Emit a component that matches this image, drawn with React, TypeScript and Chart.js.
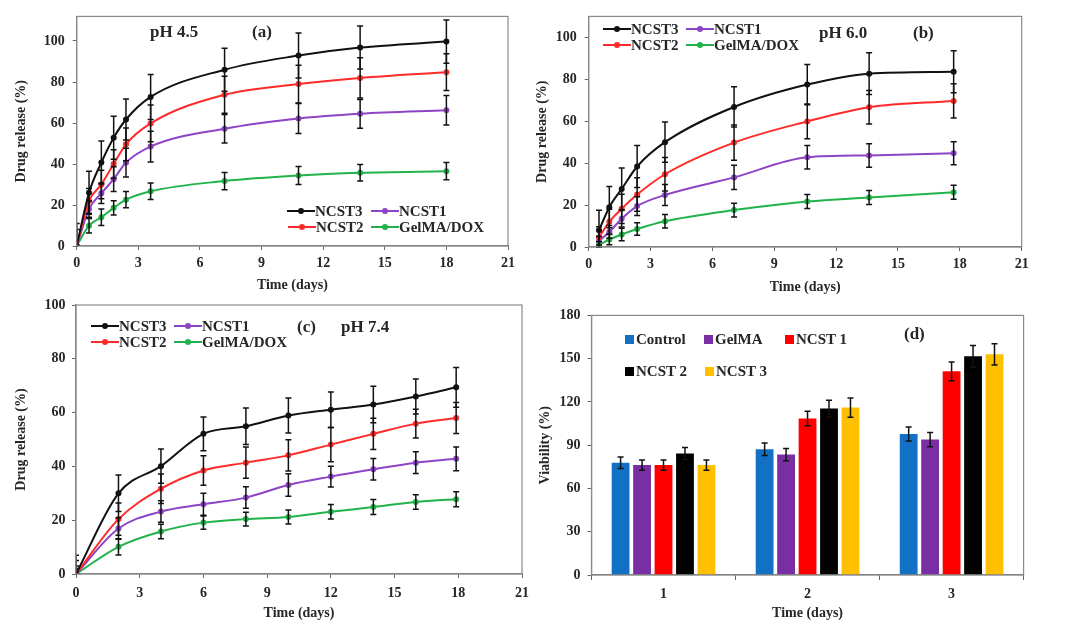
import React, { useEffect, useRef } from "react";
import { Chart, registerables } from "chart.js";

Chart.register(...registerables);

const FONT_FAMILY = '"Liberation Serif", "Times New Roman", Times, serif';
const TEXT_COLOR = "#262626";

// ---------- series names / colours ----------
const LINE_SERIES = ["NCST3", "NCST2", "NCST1", "GelMA/DOX"];
const LINE_COLORS = ["#111111", "#ff2a2a", "#8d44c6", "#22b24c"];

const BAR_SERIES = ["Control", "GelMA", "NCST 1", "NCST 2", "NCST 3"];
const BAR_COLORS = ["#1271c4", "#7a2ea4", "#ff0000", "#000000", "#ffc000"];

// ---------- panel (a) pH 4.5 ----------
const daysA = [0, 0.6, 1.2, 1.8, 2.4, 3.6, 7.2, 10.8, 13.8, 18];
const ncst3A = [0, 26, 40.7, 52.8, 61.7, 72.7, 86, 92.9, 96.8, 99.7];
const ncst3ErrA = [11, 10.5, 10.5, 10.5, 10, 11, 10.5, 11, 10.5, 10.5];
const ncst2A = [0, 22, 30, 40, 49.6, 59.8, 73.8, 79, 82, 84.8];
const ncst2ErrA = [8, 6, 7, 7, 8, 9, 9, 9.2, 9.8, 9];
const ncst1A = [0, 18, 25.7, 32.6, 40.7, 48.5, 57.2, 62.2, 64.5, 66.2];
const ncst1ErrA = [0, 4, 5, 6, 7, 7.5, 7, 7.3, 7, 7.2];
const gelA = [0, 9.9, 14, 18.6, 22.6, 26.7, 31.7, 34.4, 35.7, 36.5];
const gelErrA = [0, 3.5, 4, 3.5, 4, 4, 4.2, 4.4, 4, 4.2];

// ---------- panel (b) pH 6.0 ----------
const daysB = [0.5, 1.0, 1.6, 2.35, 3.7, 7.05, 10.6, 13.6, 17.7];
const ncst3B = [8, 19, 27.7, 38.4, 50, 66.8, 77.5, 82.7, 83.6];
const ncst3ErrB = [9.5, 9.8, 10, 10, 9.6, 9.6, 9.6, 10, 10];
const ncst2B = [4.6, 12, 18.2, 25, 34.7, 49.8, 59.9, 66.7, 69.7];
const ncst2ErrB = [5, 6, 7, 8, 8, 8.4, 8.3, 8, 8.2];
const ncst1B = [3, 7.2, 13.5, 19.5, 24.8, 33.2, 42.8, 43.7, 44.7];
const ncst1ErrB = [2, 3, 4, 4.5, 5, 5.8, 5.6, 5.6, 5.5];
const gelB = [1, 3.6, 6, 8.6, 12.3, 17.6, 21.7, 23.6, 26.1];
const gelErrB = [1.5, 2.5, 3, 3, 3.2, 3.3, 3.3, 3.3, 3.3];

// ---------- panel (c) pH 7.4 ----------
const daysC = [0, 2, 4, 6, 8, 10, 12, 14, 16, 17.9];
const ncst3C = [0, 30, 40.1, 52.1, 54.9, 58.9, 61.1, 63, 66, 69.4];
const ncst3ErrC = [7, 6.8, 6.4, 6.3, 6.8, 6.5, 6.6, 6.8, 6.5, 7.4];
const ncst2C = [0, 20.4, 31.7, 38.5, 41.4, 44.1, 48.1, 52.1, 55.9, 58];
const ncst2ErrC = [5, 6, 5.5, 5.5, 5.8, 5.8, 6.4, 5.8, 5.3, 5.8];
const ncst1C = [0, 16.9, 23.2, 25.9, 28.4, 33.1, 36.2, 38.9, 41.4, 42.8];
const ncst1ErrC = [3, 4, 4, 4.1, 4, 4.2, 3.9, 4, 4, 4.4];
const gelC = [0, 10.1, 15.8, 19.1, 20.4, 21.2, 23.1, 24.9, 26.8, 27.8];
const gelErrC = [2, 3, 2.7, 2.5, 2.6, 2.6, 2.7, 2.8, 2.7, 2.8];

// ---------- panel (d) viability ----------
const dayLabelsD = ["1", "2", "3"];
const controlD = [77.8, 87.2, 97.8];
const controlErrD = [4, 4.4, 4.9];
const gelmaD = [76.2, 83.5, 93.9];
const gelmaErrD = [3.5, 4.2, 4.9];
const ncst1D = [76.2, 108.5, 141.2];
const ncst1ErrD = [3.5, 5, 6.5];
const ncst2D = [84.2, 115.4, 151.6];
const ncst2ErrD = [4.2, 5.8, 7.6];
const ncst3D = [76.2, 116.1, 153];
const ncst3ErrD = [3.5, 6.7, 7.4];

// ---------- plugins ----------
const errorBarPlugin = {
  id: "errorBars",
  afterDatasetsDraw(chart: any) {
    const { ctx, chartArea: a } = chart;
    const yScale = chart.scales.y;
    ctx.save();
    ctx.beginPath();
    ctx.rect(a.left, a.top - 2, a.right - a.left, a.bottom - a.top + 3);
    ctx.clip();
    ctx.strokeStyle = "#111";
    ctx.lineWidth = 1.5;
    const cap = 3;
    chart.data.datasets.forEach((ds: any, i: number) => {
      const errs: number[] | undefined = ds.errors;
      if (!errs) return;
      const meta = chart.getDatasetMeta(i);
      meta.data.forEach((el: any, j: number) => {
        const raw = ds.data[j];
        const v = typeof raw === "number" ? raw : raw.y;
        const e = errs[j];
        if (!e) return;
        const x = el.x;
        const y1 = yScale.getPixelForValue(v + e);
        const y2 = yScale.getPixelForValue(v - e);
        ctx.beginPath();
        ctx.moveTo(x, y1);
        ctx.lineTo(x, y2);
        ctx.moveTo(x - cap, y1);
        ctx.lineTo(x + cap, y1);
        ctx.moveTo(x - cap, y2);
        ctx.lineTo(x + cap, y2);
        ctx.stroke();
      });
    });
    ctx.restore();
  },
};

const frameBoxPlugin = {
  id: "frameBox",
  afterDraw(chart: any) {
    const { ctx, chartArea: a } = chart;
    ctx.save();
    ctx.strokeStyle = "#8a8a8a";
    ctx.lineWidth = 1.2;
    ctx.strokeRect(a.left, a.top, a.right - a.left, a.bottom - a.top);
    ctx.restore();
  },
};

// ---------- geometry ----------
type Geo = {
  cx: number; cy: number; cw: number; ch: number;
  pl: number; pt: number; pr: number; pb: number;
  yTitlePad: number; yTickPad: number; xTickPad: number; xTitlePad: number;
};

const GEO_A: Geo = { cx: 0, cy: 0, cw: 530, ch: 300, pl: 76.7, pt: 14, pr: 508, pb: 246, yTitlePad: 13, yTickPad: 8, xTickPad: 5, xTitlePad: 6.6 };
const GEO_B: Geo = { cx: 530, cy: 0, cw: 541, ch: 300, pl: 588.7, pt: 14, pr: 1021.7, pb: 247, yTitlePad: 3.6, yTickPad: 8, xTickPad: 5, xTitlePad: 4.3 };
const GEO_C: Geo = { cx: 0, cy: 290, cw: 540, ch: 343, pl: 76, pt: 305, pr: 522, pb: 574, yTitlePad: 13, yTickPad: 6.5, xTickPad: 6.5, xTitlePad: 11.3 };
const GEO_D: Geo = { cx: 530, cy: 300, cw: 541, ch: 333, pl: 591.5, pt: 315, pr: 1023.6, pb: 575, yTitlePad: 6.6, yTickPad: 7, xTickPad: 5.5, xTitlePad: 11.3 };

function makeOptions(g: Geo, xBase: any, yBase: any, xTitle: string, yTitle: string, xGridExtra: any = {}) {
  const tickFont = { family: FONT_FAMILY, size: 14, weight: "bold" as const };
  const titleFont = { family: FONT_FAMILY, size: 14, weight: "bold" as const };
  return {
    responsive: true,
    maintainAspectRatio: false,
    animation: false,
    events: [],
    layout: { padding: { left: 0, top: g.pt - g.cy, right: g.cx + g.cw - g.pr, bottom: 0 } },
    plugins: { legend: { display: false }, tooltip: { enabled: false }, title: { display: false } },
    scales: {
      x: {
        ...xBase,
        afterFit: (s: any) => { s.height = g.cy + g.ch - g.pb; },
        grid: { drawOnChartArea: false, tickLength: 4, color: "#666", ...xGridExtra },
        border: { display: true, color: "#7a7a7a", width: 1.2 },
        ticks: { ...(xBase.ticks || {}), font: tickFont, color: TEXT_COLOR, padding: g.xTickPad, maxRotation: 0, autoSkip: false },
        title: { display: true, text: xTitle, font: titleFont, color: TEXT_COLOR, padding: { top: 0, bottom: g.xTitlePad } },
      },
      y: {
        ...yBase,
        afterFit: (s: any) => { s.width = g.pl - g.cx; },
        grid: { drawOnChartArea: false, tickLength: 4, color: "#666" },
        border: { display: true, color: "#7a7a7a", width: 1.2 },
        ticks: { ...(yBase.ticks || {}), font: tickFont, color: TEXT_COLOR, padding: g.yTickPad, includeBounds: false },
        title: { display: true, text: yTitle, font: titleFont, color: TEXT_COLOR, padding: { top: g.yTitlePad, bottom: 0 } },
      },
    },
  };
}

function lineDatasets(days: number[], values: number[][], errors: number[][]) {
  return values.map((vals, i) => ({
    label: LINE_SERIES[i],
    data: vals.map((v, j) => ({ x: days[j], y: v })),
    errors: errors[i],
    borderColor: LINE_COLORS[i],
    backgroundColor: LINE_COLORS[i],
    pointBackgroundColor: LINE_COLORS[i],
    pointBorderColor: LINE_COLORS[i],
    pointRadius: 3,
    pointBorderWidth: 0,
    borderWidth: 2,
    cubicInterpolationMode: "monotone" as const,
    fill: false,
  }));
}

function lineConfig(g: Geo, days: number[], values: number[][], errors: number[][], yMax: number) {
  return {
    type: "line" as const,
    data: { datasets: lineDatasets(days, values, errors) },
    options: makeOptions(
      g,
      { type: "linear", min: 0, max: 21, ticks: { stepSize: 3 } },
      { type: "linear", min: 0, max: yMax, ticks: { stepSize: 20 } },
      "Time (days)",
      "Drug release (%)"
    ),
    plugins: [errorBarPlugin, frameBoxPlugin],
  };
}

function barConfig(g: Geo) {
  const vals = [controlD, gelmaD, ncst1D, ncst2D, ncst3D];
  const errs = [controlErrD, gelmaErrD, ncst1ErrD, ncst2ErrD, ncst3ErrD];
  return {
    type: "bar" as const,
    data: {
      labels: dayLabelsD,
      datasets: vals.map((v, i) => ({
        label: BAR_SERIES[i],
        data: v,
        errors: errs[i],
        backgroundColor: BAR_COLORS[i],
        borderWidth: 0,
        barPercentage: 0.83,
        categoryPercentage: 0.745,
      })),
    },
    options: makeOptions(
      g,
      { type: "category", offset: true },
      { type: "linear", min: 0, max: 180, ticks: { stepSize: 30 } },
      "Time (days)",
      "Viability (%)",
      { offset: true, tickLength: 5 }
    ),
    plugins: [errorBarPlugin, frameBoxPlugin],
  };
}

function ChartPanel({ geo, makeConfig }: { geo: Geo; makeConfig: () => any }) {
  const ref = useRef<HTMLCanvasElement | null>(null);
  useEffect(() => {
    if (!ref.current) return;
    const chart = new Chart(ref.current, makeConfig());
    return () => chart.destroy();
  }, []);
  return (
    <div style={{ position: "absolute", left: geo.cx, top: geo.cy, width: geo.cw, height: geo.ch }}>
      <canvas ref={ref} />
    </div>
  );
}

// ---------- legend / annotation helpers ----------
function LineKey({ x, y, idx }: { x: number; y: number; idx: number }) {
  const len = 28;
  const color = LINE_COLORS[idx];
  return (
    <div style={{ position: "absolute", left: x, top: y - 10, height: 20, display: "flex", alignItems: "center", whiteSpace: "nowrap" }}>
      <span style={{ position: "relative", display: "inline-block", width: len, height: 2, background: color }}>
        <span style={{ position: "absolute", left: len / 2 - 3, top: -2, width: 6, height: 6, borderRadius: "50%", background: color }} />
      </span>
      <span style={{ font: `bold 15px ${FONT_FAMILY}`, color: TEXT_COLOR, lineHeight: "20px" }}>{LINE_SERIES[idx]}</span>
    </div>
  );
}

function BoxKey({ x, y, idx }: { x: number; y: number; idx: number }) {
  return (
    <div style={{ position: "absolute", left: x, top: y - 10, height: 20, display: "flex", alignItems: "center", whiteSpace: "nowrap" }}>
      <span style={{ display: "inline-block", width: 9, height: 9, background: BAR_COLORS[idx], marginRight: 2 }} />
      <span style={{ font: `bold 15px ${FONT_FAMILY}`, color: TEXT_COLOR, lineHeight: "20px" }}>{BAR_SERIES[idx]}</span>
    </div>
  );
}

function Note({ x, y, text }: { x: number; y: number; text: string }) {
  return (
    <div style={{ position: "absolute", left: x, top: y - 11, height: 22, lineHeight: "22px", font: `bold 17px ${FONT_FAMILY}`, color: TEXT_COLOR, whiteSpace: "nowrap" }}>
      {text}
    </div>
  );
}

export default function App() {
  return (
    <div style={{ position: "absolute", left: 0, top: 0, width: 1071, height: 633, background: "#ffffff", overflow: "hidden" }}>
      <ChartPanel
        geo={GEO_A}
        makeConfig={() => lineConfig(GEO_A, daysA, [ncst3A, ncst2A, ncst1A, gelA], [ncst3ErrA, ncst2ErrA, ncst1ErrA, gelErrA], 112)}
      />
      <ChartPanel
        geo={GEO_B}
        makeConfig={() => lineConfig(GEO_B, daysB, [ncst3B, ncst2B, ncst1B, gelB], [ncst3ErrB, ncst2ErrB, ncst1ErrB, gelErrB], 110)}
      />
      <ChartPanel
        geo={GEO_C}
        makeConfig={() => lineConfig(GEO_C, daysC, [ncst3C, ncst2C, ncst1C, gelC], [ncst3ErrC, ncst2ErrC, ncst1ErrC, gelErrC], 100)}
      />
      <ChartPanel geo={GEO_D} makeConfig={() => barConfig(GEO_D)} />

      {/* panel (a) */}
      <Note x={150} y={33} text="pH 4.5" />
      <Note x={252} y={33} text="(a)" />
      <LineKey x={287} y={211} idx={0} />
      <LineKey x={371} y={211} idx={2} />
      <LineKey x={288} y={227} idx={1} />
      <LineKey x={371} y={227} idx={3} />

      {/* panel (b) */}
      <LineKey x={603} y={29} idx={0} />
      <LineKey x={686} y={29} idx={2} />
      <LineKey x={603} y={45} idx={1} />
      <LineKey x={686} y={45} idx={3} />
      <Note x={819} y={34} text="pH 6.0" />
      <Note x={913} y={34} text="(b)" />

      {/* panel (c) */}
      <LineKey x={91} y={326} idx={0} />
      <LineKey x={174} y={326} idx={2} />
      <LineKey x={91} y={342} idx={1} />
      <LineKey x={174} y={342} idx={3} />
      <Note x={297} y={328} text="(c)" />
      <Note x={341} y={328} text="pH 7.4" />

      {/* panel (d) */}
      <BoxKey x={625} y={339} idx={0} />
      <BoxKey x={704} y={339} idx={1} />
      <BoxKey x={785} y={339} idx={2} />
      <BoxKey x={625} y={371} idx={3} />
      <BoxKey x={705} y={371} idx={4} />
      <Note x={904} y={335} text="(d)" />
    </div>
  );
}
